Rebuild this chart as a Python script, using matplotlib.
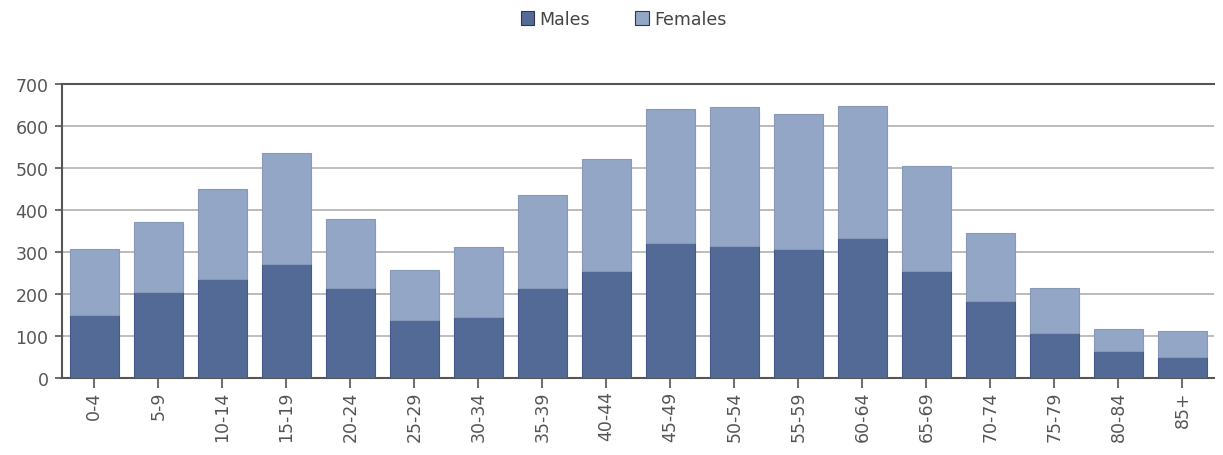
import matplotlib
matplotlib.use("Agg")
import matplotlib.pyplot as plt
import numpy as np

# age groups and counts
age_groups = ["0-4", "5-9", "10-14", "15-19", "20-24", "25-29", "30-34", "35-39",
              "40-44", "45-49", "50-54", "55-59", "60-64", "65-69", "70-74",
              "75-79", "80-84", "85+"]
males = [150, 205, 235, 270, 215, 137, 145, 215, 255, 320, 315, 307, 332, 255, 183, 108, 65, 50]
totals = [307, 372, 450, 535, 378, 258, 312, 435, 520, 640, 645, 628, 648, 505, 345, 215, 117, 112]
females = [t - m for t, m in zip(totals, males)]

plt.rcParams['font.family'] = ['DejaVu Sans']

fig = plt.figure(figsize=(12.23, 4.56), dpi=100)
ax = fig.add_axes([0.051, 0.169, 0.942, 0.645])

x = np.arange(len(age_groups))
w = 0.76
ax.bar(x, males, w, color="#536a96", edgecolor="#46598a", linewidth=0.8, label="Males", zorder=3)
ax.bar(x, females, w, bottom=males, color="#94a6c6", edgecolor="#8898b8", linewidth=0.8,
       label="Females", zorder=3)

ax.set_xlim(-0.5, len(age_groups) - 0.5)
ax.set_ylim(0, 700)
ax.set_yticks(range(0, 701, 100))
ax.set_xticks(x)
ax.set_xticklabels(age_groups, rotation=90)
ax.tick_params(axis="both", labelsize=12.5, colors="#555555", width=1.2)
ax.tick_params(axis="y", length=5, pad=5)
ax.tick_params(axis="x", length=7, pad=2)

ax.yaxis.grid(True, color="#b0b0b0", linewidth=1.2, zorder=0)
ax.set_axisbelow(True)
for s in ["top", "left", "bottom"]:
    ax.spines[s].set_color("#555555")
    ax.spines[s].set_linewidth(1.5)
ax.spines["right"].set_visible(False)

leg = fig.legend(loc="upper center", bbox_to_anchor=(0.51, 1.01), ncol=2, frameon=False,
                 fontsize=12.5, handlelength=0.8, handleheight=0.9, columnspacing=2.6,
                 handletextpad=0.3)
for t in leg.get_texts():
    t.set_color("#444444")
for h in leg.legend_handles:
    h.set_edgecolor("#333355")

fig.savefig("out.png", dpi=100)
